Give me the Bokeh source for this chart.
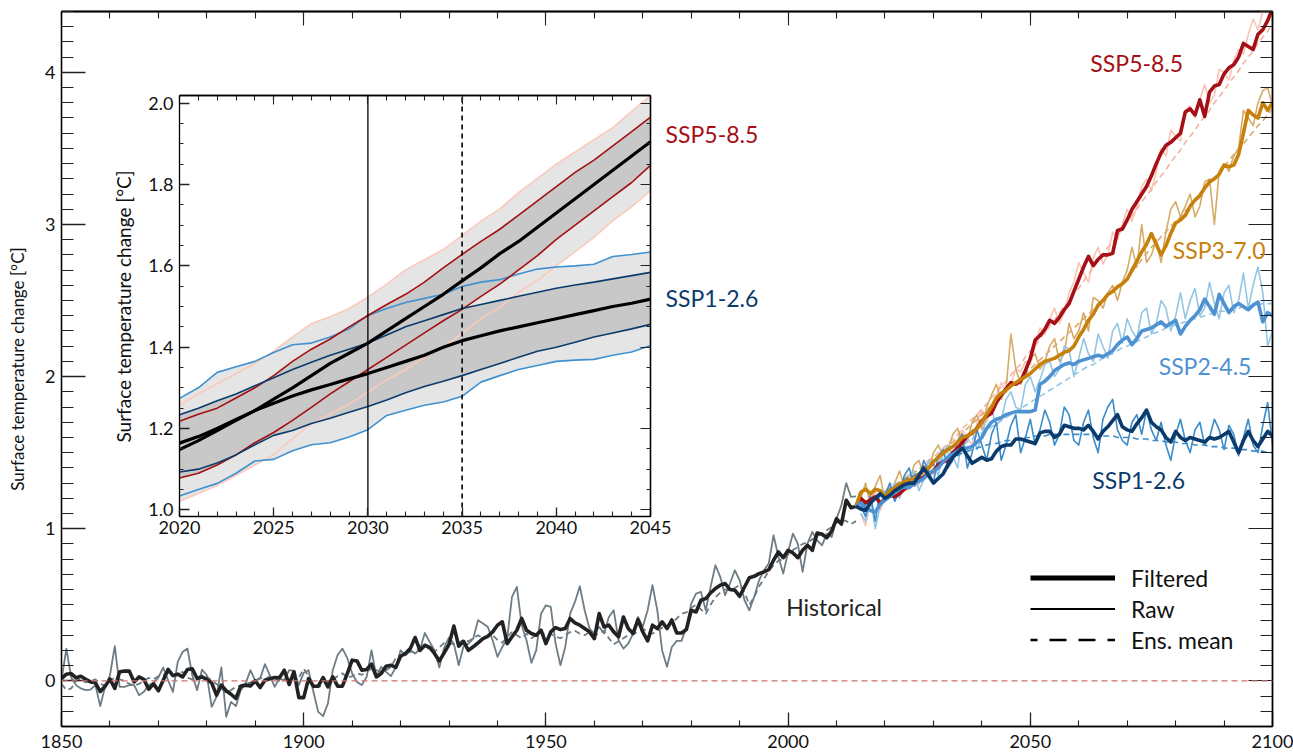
import numpy as np
from bokeh.plotting import figure
from bokeh.models import (Range1d, LinearAxis, FixedTicker, Label, Legend, LegendItem,
                          PrintfTickFormatter, Span)
from bokeh.embed import file_html
from bokeh.resources import INLINE

FONT = "Lato"

# ---------------- data ----------------
hist_years = list(range(1850, 2015))
hist_filtered = [
    0.015, 0.044, 0.048, 0.020, 0.030, 0.010, -0.007, -0.013, -0.070, -0.035,
    0.013, -0.050, 0.060, 0.064, 0.064, -0.007, 0.026, 0.010, -0.055, -0.020,
    -0.065, 0.004, 0.075, 0.035, 0.044, 0.026, 0.075, 0.080, 0.015, 0.026,
    0.010, -0.013, -0.094, -0.028, -0.065, -0.088, -0.116, -0.035, -0.028, -0.033,
    0.000, -0.044, 0.004, 0.013, 0.022, 0.020, 0.070, -0.024, 0.060, -0.110,
    -0.110, 0.015, -0.035, -0.035, 0.022, -0.040, 0.026, -0.035, -0.035, 0.048,
    0.136, 0.131, 0.070, 0.075, 0.110, 0.026, 0.048, 0.096, 0.103, 0.088,
    0.162, 0.180, 0.212, 0.285, 0.200, 0.234, 0.220, 0.180, 0.131, 0.184,
    0.240, 0.360, 0.228, 0.260, 0.200, 0.224, 0.250, 0.278, 0.293, 0.322,
    0.366, 0.388, 0.245, 0.290, 0.333, 0.410, 0.333, 0.311, 0.300, 0.333,
    0.245, 0.322, 0.350, 0.337, 0.344, 0.410, 0.381, 0.366, 0.344, 0.322,
    0.278, 0.442, 0.355, 0.366, 0.322, 0.290, 0.420, 0.344, 0.311, 0.403,
    0.322, 0.263, 0.366, 0.344, 0.388, 0.344, 0.400, 0.315, 0.315, 0.337,
    0.464, 0.453, 0.530, 0.541, 0.578, 0.607, 0.629, 0.640, 0.600, 0.596,
    0.556, 0.617, 0.678, 0.687, 0.705, 0.716, 0.731, 0.793, 0.847, 0.810,
    0.858, 0.841, 0.810, 0.858, 0.891, 0.858, 0.972, 0.964, 0.941, 0.985,
    1.066, 1.030, 1.187, 1.138, 1.147]
hist_raw = [
    0.004, 0.212, 0.022, -0.028, -0.050, -0.061, -0.057, -0.028, -0.166, -0.039,
    0.037, 0.228, -0.039, -0.039, -0.028, -0.028, -0.094, -0.072, -0.028, -0.013,
    0.022, 0.088, 0.004, -0.072, 0.125, 0.190, 0.212, 0.037, -0.061, 0.074,
    0.037, -0.171, -0.105, 0.088, -0.236, -0.138, -0.166, -0.061, -0.018, 0.070,
    0.000, 0.015, 0.110, 0.037, -0.039, 0.015, 0.004, 0.070, 0.066, -0.028,
    0.053, 0.070, -0.072, -0.204, -0.232, -0.149, 0.070, 0.170, 0.212, 0.150,
    0.048, -0.007, -0.028, 0.026, 0.201, 0.026, 0.092, 0.059, 0.031, 0.088,
    0.201, 0.168, 0.201, 0.180, 0.206, 0.315, 0.256, 0.201, 0.088, 0.219,
    0.285, 0.245, 0.103, 0.228, 0.245, 0.278, 0.399, 0.377, 0.355, 0.267,
    0.158, 0.223, 0.278, 0.552, 0.618, 0.366, 0.267, 0.118, 0.200, 0.442,
    0.497, 0.486, 0.245, 0.103, 0.223, 0.442, 0.519, 0.622, 0.464, 0.344,
    0.311, 0.355, 0.311, 0.420, 0.464, 0.267, 0.212, 0.245, 0.311, 0.420,
    0.355, 0.464, 0.629, 0.464, 0.200, 0.092, 0.223, 0.263, 0.263, 0.355,
    0.508, 0.574, 0.585, 0.464, 0.618, 0.760, 0.683, 0.563, 0.640, 0.727,
    0.661, 0.530, 0.464, 0.552, 0.661, 0.727, 0.771, 0.957, 0.815, 0.705,
    0.848, 0.968, 0.902, 0.716, 0.902, 0.979, 0.924, 0.891, 0.968, 0.946,
    1.066, 1.154, 1.300, 1.209, 1.213]
hist_mean = [
    -0.02, -0.06, -0.05, 0.00, 0.01, -0.01, 0.00, 0.01, -0.02, -0.03,
    0.00, 0.02, 0.01, 0.00, -0.02, -0.03, -0.02, 0.00, 0.02, 0.01,
    0.03, 0.04, 0.05, 0.03, 0.04, 0.06, 0.02, 0.01, 0.02, 0.04,
    0.03, 0.00, -0.02, -0.05, -0.08, -0.06, -0.04, -0.03, -0.02, -0.01,
    0.00, 0.02, 0.01, 0.03, 0.02, 0.00, 0.01, -0.01, 0.03, 0.02,
    0.08, 0.03, -0.02, -0.04, -0.03, 0.00, 0.01, 0.03, 0.05, 0.02,
    0.03, 0.05, 0.04, 0.06, 0.08, 0.07, 0.06, 0.07, 0.09, 0.15,
    0.17, 0.18, 0.19, 0.19, 0.22, 0.24, 0.20, 0.19, 0.22, 0.25,
    0.25, 0.24, 0.25, 0.27, 0.26, 0.28, 0.30, 0.28, 0.29, 0.30,
    0.27, 0.25, 0.29, 0.32, 0.30, 0.28, 0.31, 0.28, 0.30, 0.32,
    0.30, 0.31, 0.29, 0.28, 0.30, 0.32, 0.33, 0.31, 0.30, 0.32,
    0.30, 0.31, 0.33, 0.28, 0.24, 0.26, 0.28, 0.30, 0.31, 0.32,
    0.34, 0.33, 0.31, 0.33, 0.35, 0.36, 0.38, 0.41, 0.44, 0.45,
    0.48, 0.50, 0.47, 0.44, 0.50, 0.55, 0.58, 0.60, 0.60, 0.61,
    0.63, 0.58, 0.50, 0.55, 0.62, 0.67, 0.72, 0.76, 0.79, 0.80,
    0.83, 0.86, 0.88, 0.90, 0.91, 0.93, 0.95, 0.97, 0.99, 1.01,
    1.04, 1.06, 1.05, 1.03, 1.05]

scen_years = list(range(2015, 2101))
ssp585_filtered = [
    1.20, 1.17, 1.19, 1.21, 1.17, 1.19, 1.22, 1.21, 1.23, 1.26,
    1.28, 1.30, 1.32, 1.34, 1.36, 1.38, 1.42, 1.44, 1.45, 1.50,
    1.53, 1.57, 1.61, 1.63, 1.66, 1.71, 1.74, 1.76, 1.83, 1.88,
    1.92, 1.96, 1.95, 1.97, 2.04, 2.12, 2.24, 2.27, 2.31, 2.37,
    2.35, 2.39, 2.44, 2.48, 2.56, 2.64, 2.72, 2.79, 2.73, 2.77,
    2.80, 2.80, 2.81, 2.96, 2.97, 3.03, 3.10, 3.15, 3.20, 3.25,
    3.32, 3.40, 3.47, 3.52, 3.54, 3.57, 3.60, 3.74, 3.76, 3.72,
    3.82, 3.71, 3.87, 3.91, 3.92, 3.99, 4.03, 4.05, 4.10, 4.19,
    4.17, 4.15, 4.25, 4.28, 4.34, 4.42]
ssp585_raw = [
    1.10, 1.02, 1.18, 1.25, 1.12, 1.20, 1.30, 1.28, 1.20, 1.33,
    1.36, 1.28, 1.29, 1.40, 1.45, 1.35, 1.42, 1.52, 1.50, 1.46,
    1.58, 1.65, 1.60, 1.55, 1.70, 1.78, 1.70, 1.80, 1.88, 1.96,
    1.90, 1.95, 2.05, 2.03, 2.10, 2.08, 2.20, 2.32, 2.28, 2.38,
    2.45, 2.35, 2.42, 2.55, 2.62, 2.75, 2.68, 2.62, 2.78, 2.85,
    2.74, 2.80, 2.95, 2.90, 3.00, 3.10, 3.02, 3.12, 3.25, 3.30,
    3.22, 3.35, 3.50, 3.45, 3.62, 3.58, 3.55, 3.75, 3.78, 3.70,
    3.82, 3.92, 3.80, 3.85, 4.02, 4.00, 3.95, 4.08, 4.15, 4.12,
    4.25, 4.35, 4.28, 4.40, 4.45, 4.50]
ssp585_mean = [
    1.15, 1.16, 1.18, 1.20, 1.22, 1.23, 1.25, 1.27, 1.30, 1.32,
    1.34, 1.37, 1.39, 1.42, 1.45, 1.47, 1.50, 1.53, 1.56, 1.59,
    1.62, 1.66, 1.69, 1.72, 1.75, 1.79, 1.82, 1.86, 1.90, 1.93,
    1.97, 2.01, 2.05, 2.08, 2.13, 2.17, 2.20, 2.25, 2.29, 2.33,
    2.37, 2.42, 2.46, 2.50, 2.55, 2.58, 2.63, 2.67, 2.72, 2.76,
    2.80, 2.85, 2.88, 2.93, 2.97, 3.02, 3.06, 3.10, 3.15, 3.19,
    3.23, 3.28, 3.32, 3.36, 3.41, 3.45, 3.49, 3.54, 3.58, 3.62,
    3.67, 3.71, 3.75, 3.80, 3.84, 3.88, 3.93, 3.97, 4.01, 4.06,
    4.10, 4.14, 4.19, 4.23, 4.27, 4.32]
ssp370_filtered = [
    1.24, 1.26, 1.23, 1.26, 1.25, 1.21, 1.25, 1.27, 1.29, 1.31,
    1.32, 1.33, 1.36, 1.38, 1.40, 1.44, 1.47, 1.50, 1.52, 1.54,
    1.57, 1.60, 1.61, 1.63, 1.66, 1.70, 1.75, 1.80, 1.86, 1.89,
    1.91, 1.94, 1.96, 1.98, 2.00, 2.02, 2.05, 2.08, 2.10, 2.11,
    2.12, 2.14, 2.16, 2.17, 2.20, 2.26, 2.31, 2.37, 2.41, 2.47,
    2.50, 2.54, 2.56, 2.59, 2.61, 2.64, 2.70, 2.76, 2.82, 2.87,
    2.94, 2.87, 2.80, 2.86, 2.94, 3.01, 3.03, 3.06, 3.12, 3.16,
    3.19, 3.24, 3.28, 3.30, 3.33, 3.39, 3.38, 3.39, 3.46, 3.60,
    3.75, 3.72, 3.70, 3.80, 3.75, 3.80]
ssp370_raw = [
    1.20, 1.30, 1.15, 1.28, 1.35, 1.18, 1.22, 1.30, 1.38, 1.28,
    1.30, 1.42, 1.45, 1.35, 1.38, 1.50, 1.55, 1.48, 1.52, 1.62,
    1.66, 1.55, 1.58, 1.70, 1.75, 1.65, 1.80, 1.88, 1.95, 1.85,
    1.92, 2.28, 2.05, 1.95, 2.02, 2.12, 2.15, 2.05, 2.10, 2.20,
    2.25, 2.10, 2.15, 2.35, 2.25, 2.30, 2.42, 2.30, 2.52, 2.50,
    2.45, 2.55, 2.60, 2.50, 2.62, 2.70, 2.85, 2.72, 3.00, 2.75,
    2.80, 2.90, 2.75, 2.95, 3.10, 3.15, 3.05, 3.12, 3.20, 3.05,
    3.12, 3.28, 3.30, 3.00, 3.35, 3.40, 3.35, 3.45, 3.50, 3.75,
    3.70, 3.65, 3.80, 3.88, 3.90, 3.78]
ssp370_mean = [
    1.15, 1.17, 1.19, 1.21, 1.23, 1.25, 1.27, 1.29, 1.31, 1.33,
    1.35, 1.37, 1.39, 1.41, 1.43, 1.46, 1.48, 1.51, 1.54, 1.57,
    1.60, 1.63, 1.66, 1.69, 1.72, 1.75, 1.78, 1.81, 1.84, 1.87,
    1.90, 1.93, 1.96, 1.99, 2.02, 2.05, 2.08, 2.11, 2.14, 2.17,
    2.20, 2.23, 2.26, 2.29, 2.32, 2.35, 2.38, 2.41, 2.44, 2.47,
    2.50, 2.53, 2.56, 2.59, 2.62, 2.65, 2.69, 2.73, 2.77, 2.81,
    2.85, 2.88, 2.92, 2.95, 2.99, 3.02, 3.05, 3.09, 3.12, 3.16,
    3.19, 3.23, 3.27, 3.31, 3.34, 3.38, 3.42, 3.46, 3.50, 3.53,
    3.57, 3.61, 3.65, 3.68, 3.72, 3.76]
ssp245_filtered = [
    1.17, 1.14, 1.12, 1.11, 1.16, 1.19, 1.21, 1.24, 1.26, 1.28,
    1.27, 1.30, 1.31, 1.33, 1.36, 1.38, 1.40, 1.44, 1.47, 1.49,
    1.51, 1.53, 1.53, 1.54, 1.57, 1.60, 1.66, 1.70, 1.72, 1.73,
    1.75, 1.76, 1.77, 1.77, 1.77, 1.77, 1.78, 1.95, 1.97, 2.00,
    2.04, 2.06, 2.08, 2.09, 2.08, 2.10, 2.11, 2.12, 2.13, 2.14,
    2.13, 2.15, 2.17, 2.21, 2.24, 2.26, 2.21, 2.25, 2.30, 2.31,
    2.32, 2.34, 2.36, 2.33, 2.35, 2.37, 2.28, 2.33, 2.37, 2.40,
    2.44, 2.51, 2.46, 2.41, 2.54, 2.48, 2.42, 2.46, 2.48, 2.46,
    2.44, 2.47, 2.49, 2.36, 2.42, 2.40]
ssp245_raw = [
    1.10, 1.05, 1.20, 1.00, 1.15, 1.25, 1.22, 1.30, 1.20, 1.28,
    1.35, 1.38, 1.25, 1.32, 1.45, 1.42, 1.35, 1.50, 1.55, 1.48,
    1.40, 1.62, 1.58, 1.65, 1.52, 1.60, 1.75, 1.78, 1.68, 1.72,
    1.85, 1.90, 1.80, 1.78, 1.95, 2.00, 1.90, 1.98, 2.08, 2.10,
    2.00, 2.05, 2.20, 2.18, 2.00, 2.12, 2.25, 2.15, 2.10, 2.28,
    2.20, 2.12, 2.30, 2.35, 2.22, 2.38, 2.30, 2.25, 2.42, 2.45,
    2.28, 2.35, 2.50, 2.45, 2.30, 2.40, 2.55, 2.38, 2.50, 2.58,
    2.40, 2.45, 2.62, 2.48, 2.38, 2.55, 2.60, 2.42, 2.50, 2.68,
    2.45, 2.60, 2.72, 2.55, 2.20, 2.30]
ssp245_mean = [
    1.15, 1.16, 1.18, 1.20, 1.22, 1.23, 1.25, 1.27, 1.29, 1.31,
    1.33, 1.35, 1.37, 1.39, 1.41, 1.43, 1.45, 1.47, 1.49, 1.51,
    1.53, 1.55, 1.57, 1.59, 1.61, 1.63, 1.65, 1.67, 1.69, 1.71,
    1.73, 1.75, 1.77, 1.79, 1.81, 1.83, 1.85, 1.87, 1.89, 1.91,
    1.93, 1.95, 1.97, 1.99, 2.01, 2.03, 2.05, 2.07, 2.08, 2.10,
    2.12, 2.14, 2.15, 2.17, 2.19, 2.20, 2.22, 2.23, 2.25, 2.26,
    2.28, 2.29, 2.30, 2.32, 2.33, 2.34, 2.35, 2.36, 2.37, 2.38,
    2.39, 2.40, 2.41, 2.42, 2.43, 2.43, 2.44, 2.45, 2.45, 2.46,
    2.46, 2.47, 2.47, 2.48, 2.48, 2.48]
ssp126_filtered = [
    1.13, 1.12, 1.17, 1.20, 1.23, 1.20, 1.22, 1.25, 1.27, 1.29,
    1.30, 1.30, 1.35, 1.40, 1.35, 1.30, 1.33, 1.36, 1.42, 1.47,
    1.50, 1.53, 1.48, 1.43, 1.45, 1.47, 1.45, 1.46, 1.51, 1.54,
    1.55, 1.55, 1.59, 1.59, 1.58, 1.57, 1.56, 1.63, 1.64, 1.64,
    1.60, 1.62, 1.68, 1.67, 1.66, 1.66, 1.65, 1.68, 1.64, 1.59,
    1.64, 1.67, 1.71, 1.75, 1.67, 1.65, 1.64, 1.69, 1.73, 1.78,
    1.70, 1.67, 1.65, 1.60, 1.57, 1.64, 1.60, 1.58, 1.60, 1.59,
    1.58, 1.57, 1.60, 1.59, 1.60, 1.62, 1.64, 1.57, 1.50, 1.58,
    1.64, 1.58, 1.54, 1.59, 1.64, 1.61]
ssp126_raw = [
    1.15, 1.08, 1.22, 1.05, 1.25, 1.22, 1.30, 1.18, 1.25, 1.35,
    1.40, 1.28, 1.32, 1.45, 1.38, 1.30, 1.48, 1.52, 1.40, 1.45,
    1.58, 1.62, 1.40, 1.50, 1.65, 1.55, 1.45, 1.62, 1.70, 1.45,
    1.55, 1.68, 1.75, 1.50, 1.60, 1.72, 1.55, 1.65, 1.78, 1.70,
    1.55, 1.62, 1.80, 1.75, 1.58, 1.55, 1.70, 1.78, 1.60, 1.50,
    1.72, 1.80, 1.85, 1.65, 1.58, 1.55, 1.70, 1.75, 1.62, 1.78,
    1.65, 1.58, 1.70, 1.55, 1.45, 1.62, 1.72, 1.58, 1.50, 1.65,
    1.70, 1.55, 1.60, 1.72, 1.65, 1.52, 1.68, 1.62, 1.48, 1.60,
    1.72, 1.55, 1.50, 1.68, 1.83, 1.55]
ssp126_mean = [
    1.14, 1.16, 1.18, 1.20, 1.22, 1.24, 1.26, 1.28, 1.30, 1.32,
    1.34, 1.35, 1.37, 1.39, 1.40, 1.42, 1.43, 1.45, 1.46, 1.47,
    1.48, 1.50, 1.51, 1.52, 1.53, 1.54, 1.55, 1.56, 1.56, 1.57,
    1.58, 1.58, 1.59, 1.59, 1.60, 1.60, 1.61, 1.61, 1.61, 1.62,
    1.62, 1.62, 1.62, 1.62, 1.62, 1.62, 1.62, 1.62, 1.62, 1.61,
    1.61, 1.61, 1.61, 1.60, 1.60, 1.60, 1.60, 1.59, 1.59, 1.59,
    1.58, 1.58, 1.58, 1.57, 1.57, 1.57, 1.56, 1.56, 1.56, 1.55,
    1.55, 1.55, 1.54, 1.54, 1.54, 1.53, 1.53, 1.53, 1.52, 1.52,
    1.52, 1.51, 1.51, 1.51, 1.50, 1.50]

# inset (2020-2045)
inset_years = list(range(2020, 2046))
in585_mid = [1.148, 1.17, 1.195, 1.22, 1.244, 1.272, 1.30, 1.33, 1.36, 1.385,
             1.41, 1.44, 1.47, 1.50, 1.53, 1.563, 1.595, 1.63, 1.66, 1.695,
             1.73, 1.765, 1.80, 1.835, 1.87, 1.905]
in585_in_hi = [1.218, 1.235, 1.25, 1.275, 1.30, 1.33, 1.365, 1.395, 1.42, 1.45,
               1.478, 1.505, 1.53, 1.56, 1.595, 1.628, 1.66, 1.69, 1.725, 1.76,
               1.795, 1.83, 1.86, 1.895, 1.93, 1.966]
in585_in_lo = [1.078, 1.09, 1.11, 1.135, 1.165, 1.19, 1.22, 1.252, 1.285, 1.315,
               1.345, 1.375, 1.405, 1.435, 1.465, 1.493, 1.525, 1.555, 1.59, 1.625,
               1.665, 1.70, 1.735, 1.77, 1.805, 1.847]
in585_out_hi = [1.257, 1.285, 1.31, 1.335, 1.36, 1.39, 1.425, 1.458, 1.475, 1.495,
                1.523, 1.555, 1.59, 1.615, 1.64, 1.675, 1.71, 1.74, 1.78, 1.815,
                1.85, 1.88, 1.91, 1.94, 1.98, 2.03]
in585_out_lo = [1.021, 1.04, 1.06, 1.085, 1.11, 1.136, 1.175, 1.212, 1.235, 1.26,
                1.289, 1.32, 1.345, 1.375, 1.40, 1.434, 1.47, 1.498, 1.535, 1.565,
                1.60, 1.635, 1.67, 1.711, 1.745, 1.785]
in126_mid = [1.164, 1.18, 1.20, 1.222, 1.244, 1.262, 1.28, 1.295, 1.308, 1.322,
             1.335, 1.35, 1.365, 1.38, 1.40, 1.416, 1.428, 1.44, 1.45, 1.46,
             1.47, 1.48, 1.49, 1.50, 1.508, 1.518]
in126_in_hi = [1.234, 1.25, 1.268, 1.285, 1.305, 1.325, 1.345, 1.363, 1.38, 1.395,
               1.41, 1.43, 1.45, 1.465, 1.48, 1.495, 1.505, 1.515, 1.525, 1.535,
               1.545, 1.553, 1.56, 1.568, 1.576, 1.584]
in126_in_lo = [1.093, 1.10, 1.115, 1.135, 1.16, 1.183, 1.195, 1.212, 1.225, 1.24,
               1.254, 1.27, 1.288, 1.303, 1.316, 1.33, 1.345, 1.36, 1.375, 1.39,
               1.40, 1.412, 1.425, 1.435, 1.445, 1.456]
in126_out_hi = [1.274, 1.30, 1.338, 1.352, 1.365, 1.387, 1.406, 1.41, 1.425, 1.445,
                1.478, 1.495, 1.51, 1.52, 1.53, 1.549, 1.56, 1.566, 1.58, 1.592,
                1.597, 1.60, 1.604, 1.623, 1.628, 1.634]
in126_out_lo = [1.034, 1.05, 1.065, 1.09, 1.12, 1.124, 1.145, 1.16, 1.165, 1.179,
                1.197, 1.232, 1.245, 1.257, 1.265, 1.279, 1.314, 1.33, 1.345, 1.355,
                1.365, 1.368, 1.37, 1.38, 1.388, 1.404]
inset_markers_solid = [2030]
inset_markers_dashed = [2035]

# ticks
main_xticks = [1850, 1900, 1950, 2000, 2050, 2100]
main_xminor = list(range(1850, 2101, 10))
main_yticks = [0, 1, 2, 3, 4]
main_yminor = [round(v, 1) for v in np.arange(-0.2, 4.41, 0.1)]
inset_xticks = [2020, 2025, 2030, 2035, 2040, 2045]
inset_xminor = list(range(2020, 2046))
inset_yticks = [1.0, 1.2, 1.4, 1.6, 1.8, 2.0]
inset_yminor = [round(v, 2) for v in np.arange(1.0, 2.001, 0.05)]

# ---------------- layout ----------------
W, H = 1293, 754
BL, BR, BT, BB = 61, 21, 11, 28
FW, FH = W - BL - BR, H - BT - BB
X0, X1, Y0, Y1 = 1850, 2100, -0.3, 4.4
S = FH / 715.0                                   # vertical scale vs. reference frame
IB_L, IB_R, IB_T, IB_B = 118, 589, 84 * S, 505 * S   # inset box, px offsets in frame
IX0, IX1 = 2020, 2045
IY_PX_2, IY_PX_1 = 91.7 * S, 498.3 * S           # frame offsets of 2.0 and 1.0
ipx = (IX1 - IX0) / (IB_R - IB_L)
ix_start = IX0 - IB_L * ipx
ix_end = IX1 + (FW - IB_R) * ipx
ipy = 1.0 / (IY_PX_1 - IY_PX_2)
iy_end = 2.0 + IY_PX_2 * ipy
iy_start = 1.0 - (FH - IY_PX_1) * ipy
i_top = 2.0 - (IB_T - IY_PX_2) * ipy
i_bot = 1.0 - (IB_B - IY_PX_1) * ipy

p = figure(width=W, height=H, x_range=Range1d(X0, X1), y_range=Range1d(Y0, Y1),
           output_backend="svg", toolbar_location=None, x_axis_type=None, y_axis_type=None,
           min_border_left=BL, min_border_top=BT, min_border_right=BR, min_border_bottom=BB,
           background_fill_color="white", border_fill_color="white")
p.outline_line_color = "black"
p.outline_line_width = 1.3
p.grid.visible = False
p.extra_x_ranges = {"ix": Range1d(ix_start, ix_end)}
p.extra_y_ranges = {"iy": Range1d(iy_start, iy_end)}

AX_COL = "#222222"
TICK_FS = "18px"


def style_axis(ax, major_in, minor_in):
    ax.major_tick_in = major_in
    ax.major_tick_out = 0
    ax.minor_tick_in = minor_in
    ax.minor_tick_out = 0
    ax.axis_line_color = "black"
    ax.axis_line_width = 1.3
    ax.major_tick_line_color = AX_COL
    ax.minor_tick_line_color = AX_COL
    ax.major_tick_line_width = 1.3
    ax.minor_tick_line_width = 1.1
    ax.major_label_text_font = FONT
    ax.major_label_text_font_size = TICK_FS
    ax.major_label_text_color = "#111111"


def mirror(side, positions, length, **kw):
    # label-free tick rows (ticks given as "minor" so no labels are produced)
    ax = LinearAxis(ticker=FixedTicker(ticks=[], minor_ticks=positions), **kw)
    style_axis(ax, 0, length)
    p.add_layout(ax, side)


xb = LinearAxis(ticker=FixedTicker(ticks=main_xticks, minor_ticks=main_xminor))
style_axis(xb, 14, 6)
xb.major_label_standoff = 8
p.add_layout(xb, "below")
mirror("above", main_xticks, 14)
mirror("above", main_xminor, 7)

yl = LinearAxis(ticker=FixedTicker(ticks=main_yticks, minor_ticks=main_yminor))
style_axis(yl, 24, 12)
yl.major_label_standoff = 6
yl.axis_label = "Surface temperature change [°C]"
yl.axis_label_text_font = FONT
yl.axis_label_text_font_size = "17px"
yl.axis_label_text_font_style = "normal"
yl.axis_label_text_color = "#111111"
yl.axis_label_standoff = 14
p.add_layout(yl, "left")
mirror("right", main_yticks, 24)
mirror("right", main_yminor, 12)

# ---- inset axes (fixed inside the frame) ----
ikw = dict(x_range_name="ix", y_range_name="iy")
ixb = LinearAxis(fixed_location=i_bot, bounds=(IX0, IX1),
                 ticker=FixedTicker(ticks=inset_xticks, minor_ticks=inset_xminor), **ikw)
style_axis(ixb, 9, 5)
ixb.major_label_standoff = 4
p.add_layout(ixb, "below")
mirror("above", inset_xticks, 9, fixed_location=i_top, bounds=(IX0, IX1), **ikw)
mirror("above", inset_xminor, 5, fixed_location=i_top, bounds=(IX0, IX1), **ikw)
iyl = LinearAxis(fixed_location=IX0, bounds=(i_bot, i_top),
                 ticker=FixedTicker(ticks=inset_yticks, minor_ticks=inset_yminor),
                 formatter=PrintfTickFormatter(format="%.1f"), **ikw)
style_axis(iyl, 10, 4)
iyl.major_label_standoff = 6
p.add_layout(iyl, "left")
mirror("right", inset_yticks, 10, fixed_location=IX1, bounds=(i_bot, i_top), **ikw)
mirror("right", inset_yminor, 4, fixed_location=IX1, bounds=(i_bot, i_top), **ikw)

# ---- zero line ----
p.add_layout(Span(location=0, dimension="width", line_color="#d07272", line_width=1.4,
                  line_dash="6 4"))

# ---- main series ----
LJ = "round"
p.line(hist_years, hist_raw, line_color="#6e7c86", line_width=1.8, line_join=LJ)
p.line(hist_years, hist_mean, line_color="#6e7c86", line_width=1.8, line_dash="6 4")

scen = [
    (ssp585_raw, ssp585_mean, ssp585_filtered, "#fbc3b2", "#f5b2a2", "#a50f15"),
    (ssp370_raw, ssp370_mean, ssp370_filtered, "#d5ab66", "#d5ab66", "#c8800c"),
    (ssp245_raw, ssp245_mean, ssp245_filtered, "#93c5e5", "#93c5e5", "#4f92d2"),
    (ssp126_raw, ssp126_mean, ssp126_filtered, "#3a8cca", "#3a8cca", "#0b3b6c"),
]
for raw, mean, filt, c_raw, c_mean, c_f in scen:
    p.line(scen_years, raw, line_color=c_raw, line_width=1.6, line_join=LJ)
    p.line(scen_years, mean, line_color=c_mean, line_width=1.6, line_dash="6 4")
p.line(hist_years, hist_filtered, line_color="#222222", line_width=3.6, line_join=LJ)
for raw, mean, filt, c_raw, c_mean, c_f in scen:
    p.line([hist_years[-1]] + scen_years, [hist_filtered[-1]] + filt, line_color=c_f,
           line_width=3.6, line_join=LJ)

# ---- inset ----
clip = lambda a: np.minimum(np.array(a), i_top)
p.varea(x=inset_years, y1=in585_out_lo, y2=clip(in585_out_hi), fill_color="#e5e5e5", **ikw)
p.varea(x=inset_years, y1=in126_out_lo, y2=in126_out_hi, fill_color="#e5e5e5", **ikw)
p.varea(x=inset_years, y1=in585_in_lo, y2=in585_in_hi, fill_color="#c8c8c8", **ikw)
p.varea(x=inset_years, y1=in126_in_lo, y2=in126_in_hi, fill_color="#c8c8c8", **ikw)
for arr in (in585_out_hi, in585_out_lo):
    p.line(inset_years, clip(arr), line_color="#fcc9bb", line_width=1.6, **ikw)
for arr in (in126_out_hi, in126_out_lo):
    p.line(inset_years, arr, line_color="#3f91d0", line_width=1.6, **ikw)
for arr in (in585_in_hi, in585_in_lo):
    p.line(inset_years, arr, line_color="#a50f0f", line_width=1.6, **ikw)
for arr in (in126_in_hi, in126_in_lo):
    p.line(inset_years, arr, line_color="#0b3b6c", line_width=1.6, **ikw)
p.line(inset_years, in585_mid, line_color="black", line_width=3.2, **ikw)
p.line(inset_years, in126_mid, line_color="black", line_width=3.2, **ikw)
p.segment(x0=inset_markers_solid, x1=inset_markers_solid, y0=i_bot, y1=i_top,
          line_color="black", line_width=1.3, **ikw)
p.segment(x0=inset_markers_dashed, x1=inset_markers_dashed, y0=i_bot, y1=i_top,
          line_color="black", line_width=1.6, line_dash="5 4", **ikw)

# ---- text labels ----
LAB_FS = "23px"


def lab(x, y, text, color, inset=False):
    extra = ikw if inset else {}
    p.add_layout(Label(x=x, y=y, text=text, text_color=color, text_font=FONT,
                       text_font_size=LAB_FS, text_baseline="middle", **extra))


lab(2062.4, 4.06, "SSP5-8.5", "#a50f15")
lab(2079.4, 2.835, "SSP3-7.0", "#c8800c")
lab(2076.5, 2.07, "SSP2-4.5", "#4f92d2")
lab(2062.8, 1.32, "SSP1-2.6", "#0b3b6c")
lab(1999.6, 0.484, "Historical", "#222222")
lab(2045.8, 1.925, "SSP5-8.5", "#a50f15", inset=True)
lab(2045.8, 1.52, "SSP1-2.6", "#0b3b6c", inset=True)
p.add_layout(Label(x=2017.03, y=1.5, text="Surface temperature change [°C]", angle=np.pi / 2,
                   text_align="center", text_baseline="middle", text_font=FONT,
                   text_font_size="19px", text_color="#111111", **ikw))

# ---- legend ----
r1 = p.line(x=[np.nan], y=[np.nan], line_color="black", line_width=5)
r2 = p.line(x=[np.nan], y=[np.nan], line_color="black", line_width=2)
r3 = p.line(x=[np.nan], y=[np.nan], line_color="black", line_width=2.4,
            line_dash="17 12", line_dash_offset=10)
legend = Legend(items=[LegendItem(label="Filtered", renderers=[r1]),
                       LegendItem(label="Raw", renderers=[r2]),
                       LegendItem(label="Ens. mean", renderers=[r3])],
                location=(969, 71), orientation="vertical", glyph_width=85, glyph_height=31,
                label_height=31, spacing=0, padding=0, margin=0, label_standoff=16,
                border_line_alpha=0, background_fill_alpha=0, label_text_font=FONT,
                label_text_font_size="23px", label_text_color="#111111")
p.add_layout(legend)

open("out.html", "w").write(file_html(p, INLINE, title="Surface temperature change"))
